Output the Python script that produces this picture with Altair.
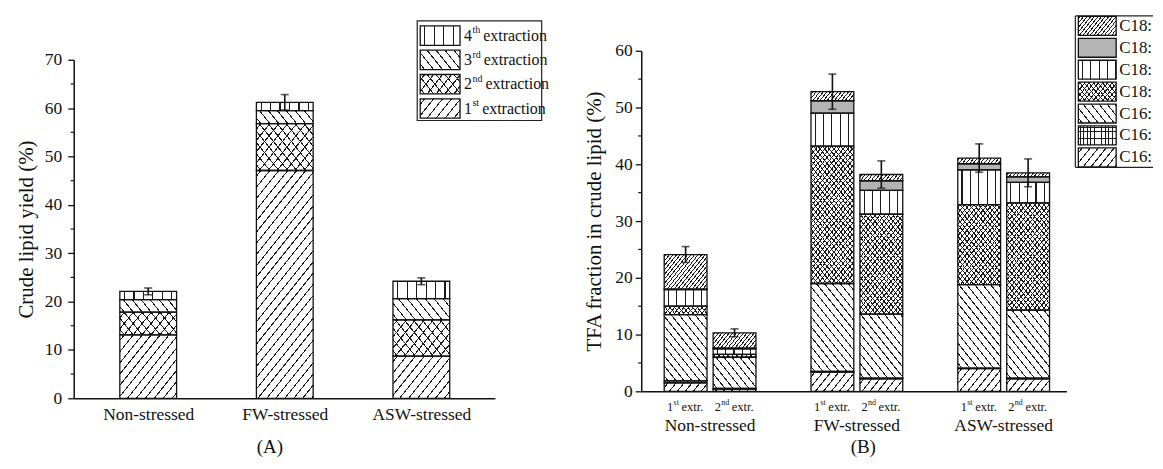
import math
import json
import altair as alt
import pandas as pd

# ---------------- Panel A data (crude lipid yield, %) ----------------
conditions = ["Non-stressed", "FW-stressed", "ASW-stressed"]
extraction_names = ["1st", "2nd", "3rd", "4th"]
extraction_1 = [13.1, 47.1, 8.7]
extraction_2 = [4.7, 9.7, 7.5]
extraction_3 = [2.6, 2.7, 4.4]
extraction_4 = [1.7, 1.7, 3.6]
yield_error = [0.7, 1.6, 0.7]

# ---------------- Panel B data (TFA fraction in crude lipid, %) ----------------
tfa_groups = ["Non-stressed", "FW-stressed", "ASW-stressed"]
tfa_extractions = ["1st", "2nd"]
fatty_acids = ["C16:2", "C16:4", "C16:0", "C18:1", "C18:2", "C18:0", "C18:3"]  # bottom -> top
# order of bars: Non 1st, Non 2nd, FW 1st, FW 2nd, ASW 1st, ASW 2nd
c16_2 = [1.5, 0.4, 3.4, 2.2, 4.0, 2.2]
c16_4 = [0.35, 0.1, 0.1, 0.1, 0.1, 0.1]
c16_0 = [11.65, 5.5, 15.5, 11.3, 14.7, 12.0]
c18_1 = [1.5, 0.5, 24.2, 17.6, 14.1, 18.9]
c18_2 = [2.9, 1.0, 5.8, 4.2, 6.1, 3.6]
c18_0 = [0.1, 0.1, 2.2, 1.7, 1.1, 1.0]
c18_3 = [6.1, 2.7, 1.6, 1.1, 1.0, 0.7]
tfa_error = [1.4, 0.7, 3.1, 2.4, 2.5, 2.45]

# ---------------- layout / style ----------------
FONT = "Liberation Serif"
INK = "#111111"
A_W, A_H, A_TOP = 423, 349, 9
A_PPU = (A_H - A_TOP) / 70.0
B_W, B_H = 427, 342
B_PPU = B_H / 60.0
A_BAR, B_BAR = 57, 43
SLOPE = 1.25
SOLID_GRAY = "#b4b4b4"
CLEAR = "rgba(255,255,255,0)"

A_PATTERNS = {
    "1st": [("u", 9.0, 1.0)],
    "2nd": [("u", 9.0, 1.0), ("d", 9.0, 1.0)],
    "3rd": [("d", 9.0, 1.0)],
    "4th": [("v", 9.5, 1.1)],
}
B_PATTERNS = {
    "C16:2": [("u", 8.0, 1.0)],
    "C16:4": [("v", 3.6, 0.8), ("h", 3.6, 0.8)],
    "C16:0": [("d", 8.0, 1.0)],
    "C18:1": [("u", 4.6, 0.9), ("d", 4.6, 0.9)],
    "C18:2": [("v", 8.4, 1.1)],
    "C18:0": "solid",
    "C18:3": [("u", 3.6, 0.9)],
}


def grad(kind, w, h, step, lw, bg):
    fg = "#1a1a1a"
    if kind == "v":
        L, wl = w, lw
        co = dict(x1=0, y1=0, x2=1, y2=0)
    elif kind == "h":
        L, wl = h, lw
        co = dict(x1=0, y1=0, x2=0, y2=1)
    else:
        L = w + h / SLOPE
        a = L / (w * w + (h / SLOPE) ** 2)
        wl = lw * math.sqrt(1 + 1 / SLOPE ** 2)
        if kind == "u":
            co = dict(x1=0, y1=0, x2=a * w, y2=a * h / SLOPE)
        else:
            co = dict(x1=0, y1=1, x2=a * w, y2=1 - a * h / SLOPE)
    stops = [(0.0, bg)]
    c = step / 2.0
    while c < L:
        lo = max(0.0, (c - wl / 2) / L)
        hi = min(1.0, (c + wl / 2) / L)
        stops += [(lo, bg), (lo, fg), (hi, fg), (hi, bg)]
        c += step
    stops.append((1.0, bg))
    return alt.LinearGradient(
        gradient="linear",
        stops=[alt.GradientStop(color=col, offset=round(o, 5)) for o, col in stops],
        **co,
    )


def fills_for(pat, w, h):
    if pat == "solid":
        return [SOLID_GRAY]
    return [grad(k, w, h, s, lw, "#ffffff" if i == 0 else CLEAR) for i, (k, s, lw) in enumerate(pat)]


dummy = pd.DataFrame({"k": [0]})

# ---------------- scales / axes ----------------
axA_y = alt.Axis(values=list(range(0, 71, 10)), title="Crude lipid yield (%)", titleFontSize=21,
                 titlePadding=8, labelFontSize=17.5, labelPadding=6, tickSize=6, grid=False)
axA_x = alt.Axis(values=[0, 1, 2], labelExpr=json.dumps(conditions) + "[datum.value]", ticks=False,
                 tickSize=0, labelPadding=7, labelFontSize=17.5, title=None, grid=False, labelOverlap=False)
scA_y = alt.Scale(domain=[0, 70], range=[A_H, A_TOP], nice=False, zero=False)
scA_x = alt.Scale(domain=[-0.509, 2.502], nice=False, zero=False)


def xA(f):
    return alt.X(f"{f}:Q", scale=scA_x, axis=axA_x)


def yA(f):
    return alt.Y(f"{f}:Q", scale=scA_y, axis=axA_y)


axB_y = alt.Axis(values=list(range(0, 61, 10)), title="TFA fraction in crude lipid (%)", titleFontSize=21,
                 titlePadding=10, labelFontSize=17.5, labelPadding=3, tickSize=6, grid=False)
axB_x = alt.Axis(values=[], labels=False, ticks=False, title=None, grid=False)
scB_y = alt.Scale(domain=[0, 60], nice=False, zero=False)
scB_x = alt.Scale(domain=[-0.805, 7.68], nice=False, zero=False)


def xB(f):
    return alt.X(f"{f}:Q", scale=scB_x, axis=axB_x)


def yB(f):
    return alt.Y(f"{f}:Q", scale=scB_y, axis=axB_y)


def seg_layers(seg_df, patterns, xenc, yenc, bar_w, ppu):
    out = []
    for _, r in seg_df.iterrows():
        h = (r["y1"] - r["y0"]) * ppu
        if h <= 0:
            continue
        one = pd.DataFrame([r.to_dict()])
        base = alt.Chart(one).encode(x=xenc("pos"), y=yenc("y0"), y2=alt.Y2("y1"))
        for f in fills_for(patterns[r["series"]], bar_w, h):
            out.append(base.mark_bar(size=bar_w, fill=f, strokeWidth=0))
    return out


# ---------------- Panel A ----------------
rowsA = []
series_vals = [extraction_1, extraction_2, extraction_3, extraction_4]
for i, cond in enumerate(conditions):
    cum = 0.0
    for s, vals in zip(extraction_names, series_vals):
        rowsA.append({"pos": i, "cond": cond, "series": s, "y0": cum, "y1": cum + vals[i]})
        cum += vals[i]
segA = pd.DataFrame(rowsA)
totA = segA.groupby("pos")["y1"].max().values
errA = pd.DataFrame({"pos": range(3), "lo": totA - yield_error, "hi": totA + yield_error})

layersA = seg_layers(segA, A_PATTERNS, xA, yA, A_BAR, A_PPU)
layersA.append(alt.Chart(segA).mark_bar(size=A_BAR, fillOpacity=0, stroke=INK, strokeWidth=1.3)
               .encode(x=xA("pos"), y=yA("y0"), y2=alt.Y2("y1")))
layersA.append(alt.Chart(errA).mark_rule(color=INK, strokeWidth=1.6)
               .encode(x=xA("pos"), y=yA("lo"), y2=alt.Y2("hi")))
for f in ["lo", "hi"]:
    layersA.append(alt.Chart(errA).mark_tick(orient="horizontal", size=8, thickness=1.6, color=INK)
                   .encode(x=xA("pos"), y=yA(f)))
minorA = pd.DataFrame({"v": list(range(5, 70, 10))})
layersA.append(alt.Chart(minorA).mark_rule(color=INK, strokeWidth=1.2)
               .encode(y=yA("v"), x=alt.value(-3), x2=alt.value(0)))
# legend A
layersA.append(alt.Chart(dummy).mark_rect(fill="white", stroke="#222222", strokeWidth=1.2)
               .encode(x=alt.value(345), x2=alt.value(470), y=alt.value(-30), y2=alt.value(70)))
sup_w = {"1st": 6.7, "2nd": 10.0, "3rd": 8.3, "4th": 7.8}
legA_order = ["4th", "3rd", "2nd", "1st"]
for j, name in enumerate(legA_order):
    y0 = -25 + j * 24.4
    for f in fills_for(A_PATTERNS[name], 40, 19.5):
        layersA.append(alt.Chart(dummy).mark_rect(fill=f, strokeWidth=0)
                       .encode(x=alt.value(348), x2=alt.value(388), y=alt.value(y0), y2=alt.value(y0 + 19.5)))
    layersA.append(alt.Chart(dummy).mark_rect(fillOpacity=0, stroke=INK, strokeWidth=1.3)
                   .encode(x=alt.value(348), x2=alt.value(388), y=alt.value(y0), y2=alt.value(y0 + 19.5)))
    ym = y0 + 10
    layersA.append(alt.Chart(dummy).mark_text(text=name[0], align="left", baseline="middle", fontSize=16, color=INK)
                   .encode(x=alt.value(392), y=alt.value(ym)))
    layersA.append(alt.Chart(dummy).mark_text(text=name[1:], align="left", baseline="middle", fontSize=10, color=INK)
                   .encode(x=alt.value(400.5), y=alt.value(ym - 5.5)))
    layersA.append(alt.Chart(dummy).mark_text(text="extraction", align="left", baseline="middle", fontSize=16, color=INK)
                   .encode(x=alt.value(400.5 + sup_w[name] + 3), y=alt.value(ym)))
layersA.append(alt.Chart(dummy).mark_text(text="(A)", align="center", baseline="middle", fontSize=19, color=INK)
               .encode(x=alt.value(197), y=alt.value(A_H + 49)))
panelA = alt.layer(*layersA).properties(width=A_W, height=A_H)

# ---------------- Panel B ----------------
fa_vals = [c16_2, c16_4, c16_0, c18_1, c18_2, c18_0, c18_3]
rowsB = []
bar_info = []
b = 0
for g, grp in enumerate(tfa_groups):
    for e, ex in enumerate(tfa_extractions):
        pos = g * 3 + e
        cum = 0.0
        for fa, vals in zip(fatty_acids, fa_vals):
            rowsB.append({"pos": pos, "series": fa, "y0": cum, "y1": cum + vals[b]})
            cum += vals[b]
        bar_info.append({"pos": pos, "e": e, "num": ex[0], "sup": ex[1:], "lo": cum - tfa_error[b],
                         "hi": cum + tfa_error[b]})
        b += 1
segB = pd.DataFrame(rowsB)
infoB = pd.DataFrame(bar_info)

layersB = seg_layers(segB, B_PATTERNS, xB, yB, B_BAR, B_PPU)
layersB.append(alt.Chart(segB).mark_bar(size=B_BAR, fillOpacity=0, stroke=INK, strokeWidth=1.3)
               .encode(x=xB("pos"), y=yB("y0"), y2=alt.Y2("y1")))
layersB.append(alt.Chart(infoB).mark_rule(color=INK, strokeWidth=1.6)
               .encode(x=xB("pos"), y=yB("lo"), y2=alt.Y2("hi")))
for f in ["lo", "hi"]:
    layersB.append(alt.Chart(infoB).mark_tick(orient="horizontal", size=8, thickness=1.6, color=INK)
                   .encode(x=xB("pos"), y=yB(f)))
minorB = pd.DataFrame({"v": list(range(5, 60, 10))})
layersB.append(alt.Chart(minorB).mark_rule(color=INK, strokeWidth=1.2)
               .encode(y=yB("v"), x=alt.value(-3), x2=alt.value(0)))
# extraction sub-labels
sub_dx = {0: (-18.6, -12.05, -4.05), 1: (-20.0, -13.45, -2.75)}
for e in (0, 1):
    d_num, d_sup, d_ex = sub_dx[e]
    src = alt.Chart(infoB).transform_filter(alt.datum.e == e)
    layersB.append(src.mark_text(align="left", baseline="middle", fontSize=12.5, dx=d_num, color=INK)
                   .encode(x=xB("pos"), y=alt.value(B_H + 16), text="num:N"))
    layersB.append(src.mark_text(align="left", baseline="middle", fontSize=8, dx=d_sup, color=INK)
                   .encode(x=xB("pos"), y=alt.value(B_H + 12), text="sup:N"))
    layersB.append(src.mark_text(text="extr.", align="left", baseline="middle", fontSize=12.5, dx=d_ex, color=INK)
                   .encode(x=xB("pos"), y=alt.value(B_H + 16)))
grpB = pd.DataFrame({"gpos": [g * 3 + 0.5 for g in range(3)], "label": tfa_groups})
layersB.append(alt.Chart(grpB).mark_text(align="center", baseline="middle", fontSize=17.5, color=INK)
               .encode(x=xB("gpos"), y=alt.value(B_H + 35), text="label:N"))
layersB.append(alt.Chart(dummy).mark_text(text="(B)", align="center", baseline="middle", fontSize=19, color=INK)
               .encode(x=alt.value(223), y=alt.value(B_H + 56)))
# legend B (cut by the right edge of the figure)
LX0, LX1, LY0, LY1 = 436, 514, -35, 117
layersB.append(alt.Chart(dummy).mark_rect(fill="white")
               .encode(x=alt.value(LX0), x2=alt.value(LX1), y=alt.value(LY0), y2=alt.value(LY1)))
for (xa, xb, ya, yb) in [(LX0, LX1, LY0, LY0), (LX0, LX1, LY1, LY1), (LX0, LX0, LY0, LY1)]:
    layersB.append(alt.Chart(dummy).mark_rule(color="#222222", strokeWidth=1.2)
                   .encode(x=alt.value(xa), x2=alt.value(xb), y=alt.value(ya), y2=alt.value(yb)))
legB_order = list(reversed(fatty_acids))
for j, name in enumerate(legB_order):
    yc = -25 + j * 22
    y0 = yc - 9.5
    for f in fills_for(B_PATTERNS[name], 38, 19):
        layersB.append(alt.Chart(dummy).mark_rect(fill=f, strokeWidth=0)
                       .encode(x=alt.value(439), x2=alt.value(477), y=alt.value(y0), y2=alt.value(y0 + 19)))
    layersB.append(alt.Chart(dummy).mark_rect(fillOpacity=0, stroke=INK, strokeWidth=1.3)
                   .encode(x=alt.value(439), x2=alt.value(477), y=alt.value(y0), y2=alt.value(y0 + 19)))
    layersB.append(alt.Chart(dummy).mark_text(text=name, align="left", baseline="middle", fontSize=17, color=INK,
                                              limit=34, ellipsis="\u200b")
                   .encode(x=alt.value(480), y=alt.value(yc)))
panelB = alt.layer(*layersB).properties(width=B_W, height=B_H)

chart = (
    alt.hconcat(panelA, panelB, spacing=147, bounds="flush")
    .properties(padding={"left": 7, "top": 5, "right": 0, "bottom": 0})
    .configure_view(stroke="transparent")
    .configure_axis(labelFont=FONT, titleFont=FONT, labelColor=INK, titleColor=INK, titleFontWeight="normal",
                    domainColor=INK, tickColor=INK, domainWidth=1.5, tickWidth=1.3)
    .configure_text(font=FONT)
)
chart.save("out.html", embed_options={"renderer": "svg", "actions": False})
